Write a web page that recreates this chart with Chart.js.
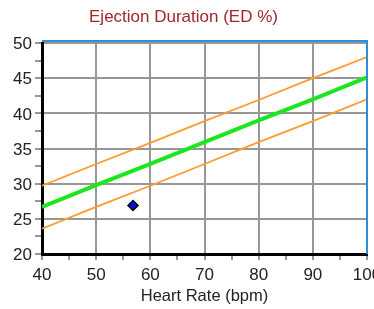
<!DOCTYPE html>
<html>
<head>
<meta charset="utf-8">
<script src="https://cdn.jsdelivr.net/npm/chart.js@4/dist/chart.umd.min.js"></script>
<style>
  html, body { margin: 0; padding: 0; background: #fff; overflow: hidden; }
  canvas { display: block; }
</style>
</head>
<body>
<canvas id="edChart" width="374" height="309"></canvas>
<script>
// heart rate positions where the reference bands were read
const heartRates = [40, 50, 60, 70, 80, 90, 100];
// upper / mean / lower ED % bands
const upperBand = [29.7, 32.8, 35.8, 38.9, 41.9, 45.0, 48.0];
const meanLine  = [26.7, 29.8, 32.8, 35.9, 39.0, 42.0, 45.1];
const lowerBand = [23.6, 26.7, 29.7, 32.8, 35.9, 38.9, 42.0];
// the measured patient value
const patientHR = [56.8];
const patientED = [26.9];

const toPoints = (xs, ys) => xs.map((x, i) => ({ x: x, y: ys[i] }));

const FONT = "'Liberation Sans', Arial, sans-serif";
const GRID = "#979797";

// blue frame on top and right of the plot
const framePlugin = {
  id: "frame",
  afterDatasetsDraw(chart) {
    const { ctx, chartArea: a } = chart;
    ctx.save();
    ctx.strokeStyle = "#2f8fd6";
    ctx.lineWidth = 2;
    ctx.beginPath();
    ctx.moveTo(a.left, a.top - 2);
    ctx.lineTo(a.right, a.top - 2);
    ctx.lineTo(a.right, a.bottom);
    ctx.stroke();
    ctx.restore();
  }
};

new Chart(document.getElementById("edChart").getContext("2d"), {
  type: "line",
  data: {
    datasets: [
      {
        data: toPoints(patientHR, patientED),
        showLine: false,
        pointStyle: "rectRot",
        pointRadius: 5,
        backgroundColor: "#0a0ae6",
        borderColor: "#000",
        borderWidth: 1.5
      },
      {
        data: toPoints(heartRates, upperBand),
        borderColor: "#ff9a2e",
        borderWidth: 1.8,
        pointRadius: 0,
        tension: 0
      },
      {
        data: toPoints(heartRates, meanLine),
        borderColor: "#1ee61e",
        borderWidth: 4,
        pointRadius: 0,
        tension: 0
      },
      {
        data: toPoints(heartRates, lowerBand),
        borderColor: "#ff9a2e",
        borderWidth: 1.8,
        pointRadius: 0,
        tension: 0
      }
    ]
  },
  options: {
    responsive: false,
    animation: false,
    devicePixelRatio: 1,
    layout: { padding: { left: 0, right: 7, top: 0, bottom: 0 } },
    plugins: {
      legend: { display: false },
      tooltip: { enabled: false },
      title: {
        display: true,
        text: "Ejection Duration (ED %)",
        color: "#a2262a",
        font: { family: FONT, size: 17, weight: "normal" },
        padding: { top: 7, bottom: 15.6 }
      }
    },
    scales: {
      x: {
        type: "linear",
        min: 40,
        max: 100,
        afterFit(scale) {
          scale.paddingLeft = 0;
          scale.paddingRight = 0;
          scale.height = 55;
        },
        ticks: {
          stepSize: 5,
          autoSkip: false,
          maxRotation: 0,
          padding: 5,
          color: "#222",
          font: { family: FONT, size: 17 },
          callback: v => (v % 10 === 0 ? v : "")
        },
        grid: {
          lineWidth: 2,
          tickLength: 6,
          color: c => (c.tick && c.tick.value % 10 === 0 ? GRID : "rgba(0,0,0,0)"),
          tickColor: GRID
        },
        border: { display: true, color: "#000", width: 3 },
        title: {
          display: true,
          text: "Heart Rate (bpm)",
          color: "#222",
          font: { family: FONT, size: 16.5 },
          padding: { top: 0, bottom: 3 }
        }
      },
      y: {
        min: 20,
        max: 50,
        afterFit(scale) {
          scale.width = 42;
        },
        ticks: {
          stepSize: 2.5,
          autoSkip: false,
          padding: 3,
          labelOffset: 1.5,
          color: "#222",
          font: { family: FONT, size: 17 },
          callback: v => (v % 5 === 0 ? v : "")
        },
        grid: {
          lineWidth: 2,
          tickLength: 7,
          color: c => (c.tick && c.tick.value % 5 === 0 ? GRID : "rgba(0,0,0,0)"),
          tickColor: GRID
        },
        border: { display: true, color: "#000", width: 3 }
      }
    }
  },
  plugins: [framePlugin]
});
</script>
</body>
</html>
